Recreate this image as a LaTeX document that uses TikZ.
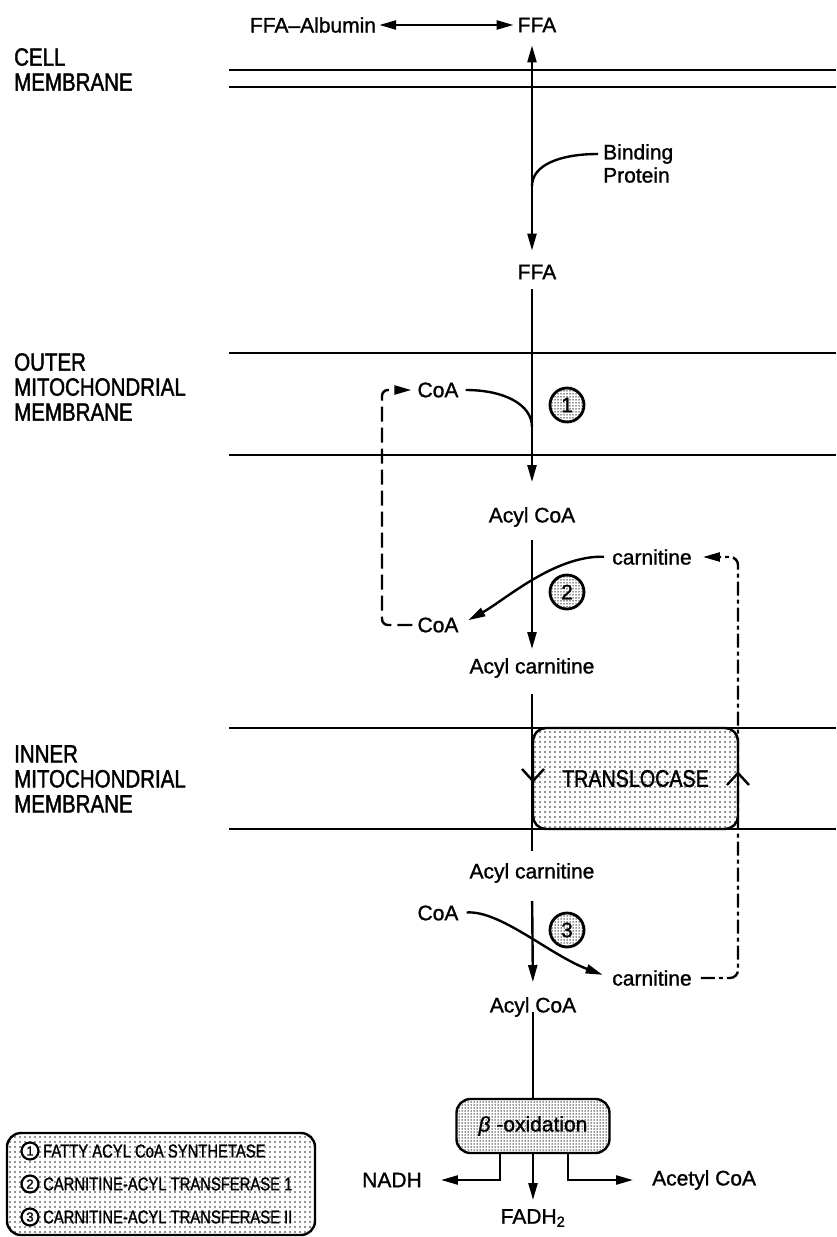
\documentclass[tikz,border=0pt]{standalone}
\usepackage{fontspec}
\setmainfont{Liberation Sans}[FakeBold=1.2]
\newfontfamily\capfont[FakeStretch=0.82,FakeBold=1.5]{Liberation Sans}
\newfontfamily\legfont[FakeStretch=0.8,FakeBold=1.2]{Liberation Sans}
\usetikzlibrary{arrows.meta,patterns,calc}
\pgfdeclarepatternformonly{sparsedots}{\pgfqpoint{-1pt}{-1pt}}{\pgfqpoint{1pt}{1pt}}{\pgfqpoint{5pt}{5pt}}{\pgfpathcircle{\pgfpointorigin}{0.8pt}\pgfusepath{fill}}
\pgfdeclarepatternformonly{densedots}{\pgfqpoint{-1pt}{-1pt}}{\pgfqpoint{1pt}{1pt}}{\pgfqpoint{3pt}{3pt}}{\pgfpathcircle{\pgfpointorigin}{0.75pt}\pgfusepath{fill}}
\begin{document}
\begin{tikzpicture}[x=1pt,y=-1pt,
  lbl/.style={font=\fontsize{21}{23}\selectfont, inner sep=1pt},
  memlbl/.style={font=\capfont\fontsize{25}{25}\selectfont, align=left, anchor=north west, inner sep=0pt},
  mem/.style={line width=2.1pt},
  flow/.style={line width=2.4pt},
  tip/.style={-{Triangle[length=17pt,width=9pt]}},
  tipboth/.style={{Triangle[length=17pt,width=9pt]}-{Triangle[length=17pt,width=9pt]}},
  dashL/.style={line width=2.4pt, dash pattern=on 15pt off 6pt},
  dashR/.style={line width=2.4pt, dash pattern=on 14pt off 4pt on 4pt off 4pt},
  enz/.style={circle, draw, line width=2.8pt, minimum size=34pt, inner sep=0pt, pattern=densedots, pattern color=black!85, font=\fontsize{21}{21}\selectfont},
  tbox/.style={draw, line width=2.4pt, rounded corners=13pt, pattern=sparsedots, pattern color=black!85, font=\capfont\fontsize{24}{24}\selectfont},
  bbox/.style={draw, line width=2.4pt, rounded corners=14pt, pattern=densedots, pattern color=black!85, font=\fontsize{21}{21}\selectfont},
  legnum/.style={circle, draw, line width=2.2pt, minimum size=17pt, inner sep=0pt, fill=white, font=\fontsize{13}{13}\selectfont},
  legtxt/.style={anchor=west, inner sep=0pt, font=\legfont\fontsize{18.5}{18.5}\selectfont},
]
\useasboundingbox (0,0) rectangle (836,1237);

% membrane labels
\node[memlbl] (cellm) at (14,48) {CELL\\MEMBRANE};
\node[memlbl] (outerm) at (14,353) {OUTER\\MITOCHONDRIAL\\MEMBRANE};
\node[memlbl] (innerm) at (14,745) {INNER\\MITOCHONDRIAL\\MEMBRANE};

% membranes
\draw[mem] (229,70) -- (836,70);
\draw[mem] (229,87) -- (836,87);
\draw[mem] (229,353) -- (836,353);
\draw[mem] (229,455) -- (836,455);
\draw[mem] (229,728) -- (836,728);
\draw[mem] (229,829) -- (836,829);

% translocase
\node[tbox, minimum width=205pt, minimum height=101pt] (trans) at (635.5,778.5) {TRANSLOCASE};

% labels
\node[lbl] (alb) at (313,25) {FFA–Albumin};
\node[lbl] (ffa0) at (537,25) {FFA};
\node[lbl, anchor=west] (bind) at (602,154) {Binding};
\node[lbl, anchor=west] (prot) at (602,175) {Protein};
\node[lbl] (ffa1) at (537,272) {FFA};
\node[lbl] (coaU) at (438,390) {CoA};
\node[enz] (e1) at (567,405) {1};
\node[lbl] (acoa1) at (532,517) {Acyl CoA};
\node[lbl] (carnU) at (652,557) {carnitine};
\node[enz] (e2) at (567,592) {2};
\node[lbl] (coaL) at (438,625) {CoA};
\node[lbl] (acarn1) at (532,668) {Acyl carnitine};
\node[lbl] (acarn2) at (532,873) {Acyl carnitine};
\node[lbl] (coaL2) at (438,913) {CoA};
\node[enz] (e3) at (567,930) {3};
\node[lbl] (carnL) at (652,978) {carnitine};
\node[lbl] (acoa2) at (533,1007) {Acyl CoA};
\node[bbox, minimum width=153pt, minimum height=54pt] (beta) at (533,1126) {\textit{β} -oxidation};
\node[lbl] (nadh) at (392,1180) {NADH};
\node[lbl, anchor=west] (acetyl) at (651,1180) {Acetyl CoA};
\node[lbl] (fadh) at (533,1218) {FADH\textsubscript{2}};

% legend
\node[draw, line width=2.4pt, rounded corners=14pt, pattern=sparsedots, pattern color=black!85, minimum width=308pt, minimum height=102pt] (legend) at (161,1184) {};
\node[legnum] (l1) at (30,1151) {1};
\node[legtxt] (l1t) at (43,1151) {FATTY ACYL CoA SYNTHETASE};
\node[legnum] (l2) at (30,1184) {2};
\node[legtxt] (l2t) at (43,1184) {CARNITINE-ACYL TRANSFERASE 1};
\node[legnum] (l3) at (30,1217) {3};
\node[legtxt] (l3t) at (43,1217) {CARNITINE-ACYL TRANSFERASE II};

% coordinates
\coordinate (bp) at (532,186);
\coordinate (j1) at (532,427);
\coordinate (lx) at (382,0);
\coordinate (rx) at (738,0);

% connectors
\draw[flow, tipboth, shorten <=2pt, shorten >=3pt] (alb.east) -- (ffa0.west);
\draw[flow, tipboth, shorten <=12pt, shorten >=13pt] ([xshift=-5pt]ffa0.south) -- ([xshift=-5pt]ffa1.north);
\draw[flow] (bp) .. controls (532,165) and (560,154) .. ([xshift=-4pt]bind.west);
\draw[flow, tip, shorten <=9pt, shorten >=24pt] ([xshift=-5pt]ffa1.south) -- (acoa1.north);
\draw[flow] ([xshift=6pt]coaU.east) .. controls (505,390) and (532,405) .. (j1);
\draw[flow, tip, shorten <=12pt, shorten >=8pt] (acoa1.south) -- (acarn1.north);
\draw[flow, tip, shorten <=7pt, shorten >=10pt] (carnU.west) .. controls (555,555) and (505,600) .. (coaL.east);
\draw[flow, shorten <=15pt, shorten >=11pt] (acarn1.south) -- (acarn2.north);
\draw[flow, tip, shorten <=17pt, shorten >=14pt] (acarn2.south) -- (acoa2.north);
\draw[flow, tip, shorten <=7pt, shorten >=9pt] (coaL2.east) .. controls (500,910) and (550,955) .. (carnL.west);
\draw[flow] (acoa2.base) -- (beta.north);
\draw[flow, tip, shorten >=8pt] (beta.south) -- (fadh.north);
\draw[flow, tip, shorten >=18pt] ([xshift=-33pt]beta.south) |- (nadh.east);
\draw[flow, tip, shorten >=18pt] ([xshift=35pt]beta.south) |- (acetyl.west);

% dashed recycling loops
\draw[dashL, tip, rounded corners=6pt, shorten <=4pt, shorten >=5pt] (coaL.west) -- (coaL.west -| lx) |- (coaU.west);
\draw[dashR, tip, rounded corners=8pt, shorten <=8pt, shorten >=10pt] (carnL.east) -- (carnL.east -| rx) |- (carnU.east);

% direction marks through translocase
\draw[flow] (522,769) -- (533,781) -- (544,769);
\draw[flow] (727,785) -- (738,773) -- (749,785);
\end{tikzpicture}
\end{document}
